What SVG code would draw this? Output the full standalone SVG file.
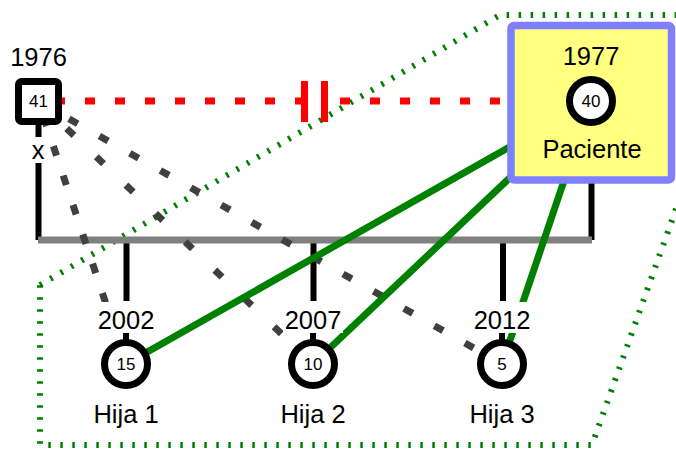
<svg xmlns="http://www.w3.org/2000/svg" width="676" height="451" viewBox="0 0 676 451">
<style>
text{font-family:"Liberation Sans",Arial,sans-serif;fill:#000;text-anchor:middle}
.lbl{font-size:25.5px}
.num{font-size:17px}
.bg{fill:#fff}
.blk{stroke:#000;stroke-width:6;fill:none}
.ring{fill:#fff;stroke:#000;stroke-width:7}
.gd{stroke:#404040;stroke-width:7;fill:none}
.gr{stroke:#008000;stroke-width:7;fill:none}
</style>
<rect width="676" height="451" fill="#fff"/>
<g id="connectors">
<polygon points="40,285 500,15 745,15 592,445 40,445" fill="none" stroke="#008000" stroke-width="6" stroke-dasharray="2.5 9.5"/>
<line x1="38.5" y1="125" x2="38.5" y2="137" class="blk"/>
<line x1="38.5" y1="163" x2="38.5" y2="240" class="blk"/>
<line x1="591.5" y1="179" x2="591.5" y2="240" class="blk" stroke-width="7"/>
<line x1="126.5" y1="240" x2="126.5" y2="301" class="blk" stroke-width="7"/>
<line x1="313.5" y1="240" x2="313.5" y2="301" class="blk" stroke-width="7"/>
<line x1="503" y1="240" x2="503" y2="301" class="blk" stroke-width="7"/>
<line x1="126" y1="333" x2="126" y2="342" class="blk" stroke-width="5"/>
<line x1="313" y1="333" x2="313" y2="342" class="blk" stroke-width="5"/>
<line x1="502" y1="333" x2="502" y2="342" class="blk" stroke-width="5"/>
<line x1="38" y1="240" x2="592" y2="240" stroke="#808080" stroke-width="7"/>
<line x1="38.5" y1="101.5" x2="126" y2="364" class="gd" stroke-dasharray="10 21" stroke-dashoffset="15"/>
<line x1="38.5" y1="101.5" x2="313" y2="364" class="gd" stroke-dasharray="10 31" stroke-dashoffset="2"/>
<line x1="38.5" y1="101.5" x2="502" y2="364" class="gd" stroke-dasharray="10 25"/>
<line x1="591" y1="101" x2="126" y2="364" class="gr"/>
<line x1="591" y1="101" x2="313" y2="364" class="gr"/>
<line x1="591" y1="101" x2="502" y2="364" class="gr"/>
<g stroke="#f00" stroke-width="7" fill="none">
<line x1="25" y1="101" x2="305" y2="101" stroke-dasharray="10 20"/>
<line x1="340" y1="101" x2="508" y2="101" stroke-dasharray="10 20"/>
<line x1="304.5" y1="81" x2="304.5" y2="122"/>
<line x1="324.5" y1="81" x2="324.5" y2="122"/>
</g>
</g>
<g id="father">
<rect x="18.5" y="81.5" width="40" height="40" rx="3" fill="#fff" stroke="#000" stroke-width="7"/>
<text x="38.5" y="107" class="num">41</text>
<text x="38.5" y="66" class="lbl">1976</text>
<text x="38" y="159" class="lbl">x</text>
</g>
<g id="patient">
<rect x="511" y="25.5" width="160.5" height="154.5" rx="3" fill="#ffff80" stroke="#7f7fff" stroke-width="7.5"/>
<text x="591" y="65" class="lbl">1977</text>
<circle cx="591" cy="101" r="21.5" class="ring"/>
<text x="591" y="107" class="num">40</text>
<text x="592" y="158" class="lbl">Paciente</text>
</g>
<g id="hija1">
<rect x="96" y="302" width="60" height="31" class="bg"/>
<text x="126" y="329" class="lbl">2002</text>
<circle cx="126" cy="364" r="21.5" class="ring"/>
<text x="126" y="370" class="num">15</text>
<text x="126" y="423" class="lbl">Hija 1</text>
</g>
<g id="hija2">
<rect x="283" y="302" width="60" height="31" class="bg"/>
<text x="313" y="329" class="lbl">2007</text>
<circle cx="313" cy="364" r="21.5" class="ring"/>
<text x="313" y="370" class="num">10</text>
<text x="313" y="423" class="lbl">Hija 2</text>
</g>
<g id="hija3">
<rect x="472" y="302" width="60" height="31" class="bg"/>
<text x="502" y="329" class="lbl">2012</text>
<circle cx="502" cy="364" r="21.5" class="ring"/>
<text x="502" y="370" class="num">5</text>
<text x="502" y="423" class="lbl">Hija 3</text>
</g>
</svg>
